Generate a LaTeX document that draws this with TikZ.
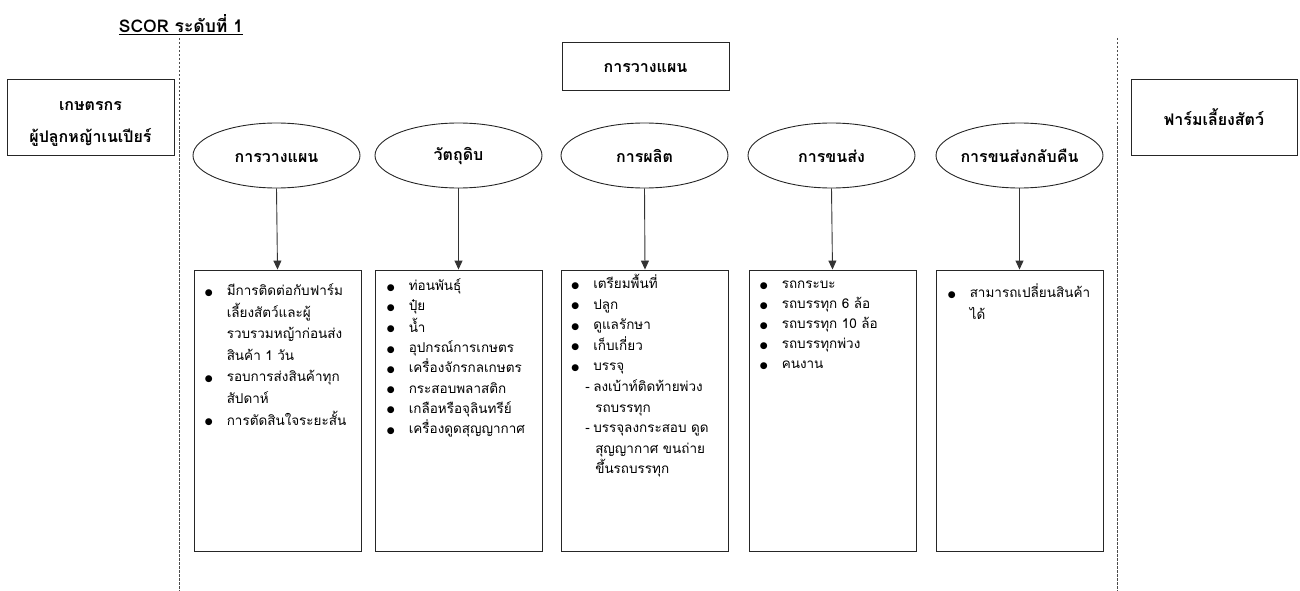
\documentclass[tikz,border=0pt]{standalone}
\usepackage{fontspec}
\setmainfont[Script=Thai]{Loma}
\newfontfamily\symfont{DejaVu Sans}
\usetikzlibrary{shapes.geometric,arrows.meta}

% list helpers: bullet item, continuation line, dash sub-item
\newcommand\blt{\raisebox{0.5pt}{\symfont\fontsize{9}{9}\selectfont ●}}
\newcommand\itm[1]{\strut\makebox[22pt][l]{\blt}#1}
\newcommand\cnt[1]{\strut\hspace*{22pt}#1}
\newcommand\subitm[1]{\strut\hspace*{14pt}\makebox[8pt][l]{-}#1}
\newcommand\subcnt[1]{\strut\hspace*{24pt}#1}

\tikzset{
  frame/.style={draw=black!85, line width=0.9pt},
  header/.style={frame, align=center, inner sep=0pt,
    font=\bfseries\fontsize{16}{32}\selectfont},
  phase/.style={ellipse, frame, minimum width=167pt, minimum height=65pt,
    inner sep=0pt, font=\bfseries\fontsize{16}{19}\selectfont},
  listbox/.style={frame, minimum width=167pt, minimum height=281pt, inner sep=0pt},
  listtext/.style={anchor=base west, inner sep=0pt, align=left, text width=150pt},
  divider/.style={draw=black!70, line width=0.7pt, dash pattern=on 2.5pt off 1.5pt},
  link/.style={draw=black!80, line width=0.9pt, -{Triangle[length=9pt,width=8pt]}}
}

\begin{document}
\begin{tikzpicture}[x=1pt,y=-1pt]
\useasboundingbox (0,0) rectangle (1300,591);

% heading
\node[font=\bfseries\fontsize{17.5}{20}\selectfont, inner sep=0pt] (title) at (181,25)
  {\underline{SCOR ระดับที่ 1}};

% level boundaries
\coordinate (ltop) at (179,38);  \coordinate (lbot) at (179,591);
\coordinate (rtop) at (1117,38); \coordinate (rbot) at (1117,591);
\draw[divider] (ltop) -- (lbot);
\draw[divider] (rtop) -- (rbot);

% partners and planning box
\node[header, minimum width=167pt, minimum height=76pt] (farmer) at (90.5,117)
  {\rule{0pt}{23pt}เกษตรกร\\ผู้ปลูกหญ้าเนเปียร์};
\node[header, minimum width=166pt, minimum height=76pt] (livestock) at (1214,117)
  {\rule{0pt}{15pt}ฟาร์มเลี้ยงสัตว์};
\node[header, minimum width=167pt, minimum height=48pt] (plan) at (645.5,66)
  {\rule{0pt}{14pt}การวางแผน};

% process stages
\node[phase] (e1) at (276.5,155.5) {\rule{0pt}{15pt}การวางแผน};
\node[phase] (e2) at (458.5,155.5) {\rule{0pt}{15pt}วัตถุดิบ};
\node[phase] (e3) at (644.5,155.5) {\rule{0pt}{15pt}การผลิต};
\node[phase] (e4) at (831.5,155.5) {\rule{0pt}{15pt}การขนส่ง};
\node[phase] (e5) at (1019.5,155.5) {\rule{0pt}{15pt}การขนส่งกลับคืน};

% detail boxes
\node[listbox] (b1) at (277.5,410.5) {};
\node[listbox] (b2) at (458.5,410.5) {};
\node[listbox] (b3) at (645,410.5) {};
\node[listbox] (b4) at (832.5,410.5) {};
\node[listbox] (b5) at (1019.5,410.5) {};

\foreach \i in {1,...,5} \draw[link] (e\i.south) -- (b\i.north);

% box contents
\node[listtext, font=\fontsize{13.5}{21.6}\selectfont] (l1) at ([xshift=11pt,yshift=-26pt]b1.north west)
  {\itm{มีการติดต่อกับฟาร์ม}\\
   \cnt{เลี้ยงสัตว์และผู้}\\
   \cnt{รวบรวมหญ้าก่อนส่ง}\\
   \cnt{สินค้า 1 วัน}\\
   \itm{รอบการส่งสินค้าทุก}\\
   \cnt{สัปดาห์}\\
   \itm{การตัดสินใจระยะสั้น}};
\node[listtext, font=\fontsize{13.5}{20.3}\selectfont] (l2) at ([xshift=12pt,yshift=-21pt]b2.north west)
  {\itm{ท่อนพันธุ์}\\
   \itm{ปุ๋ย}\\
   \itm{น้ำ}\\
   \itm{อุปกรณ์การเกษตร}\\
   \itm{เครื่องจักรกลเกษตร}\\
   \itm{กระสอบพลาสติก}\\
   \itm{เกลือหรือจุลินทรีย์}\\
   \itm{เครื่องดูดสุญญากาศ}};
\node[listtext, font=\fontsize{13.5}{20.6}\selectfont] (l3) at ([xshift=10pt,yshift=-19pt]b3.north west)
  {\itm{เตรียมพื้นที่}\\
   \itm{ปลูก}\\
   \itm{ดูแลรักษา}\\
   \itm{เก็บเกี่ยว}\\
   \itm{บรรจุ}\\
   \subitm{ลงเบ้าท์ติดท้ายพ่วง}\\
   \subcnt{รถบรรทุก}\\
   \subitm{บรรจุลงกระสอบ ดูด}\\
   \subcnt{สุญญากาศ ขนถ่าย}\\
   \subcnt{ขึ้นรถบรรทุก}};
\node[listtext, font=\fontsize{13.5}{20}\selectfont] (l4) at ([xshift=11pt,yshift=-19pt]b4.north west)
  {\itm{รถกระบะ}\\
   \itm{รถบรรทุก 6 ล้อ}\\
   \itm{รถบรรทุก 10 ล้อ}\\
   \itm{รถบรรทุกพ่วง}\\
   \itm{คนงาน}};
\node[listtext, font=\fontsize{13.5}{21.5}\selectfont] (l5) at ([xshift=12pt,yshift=-28pt]b5.north west)
  {\itm{สามารถเปลี่ยนสินค้า}\\
   \cnt{ได้}};
\end{tikzpicture}
\end{document}
